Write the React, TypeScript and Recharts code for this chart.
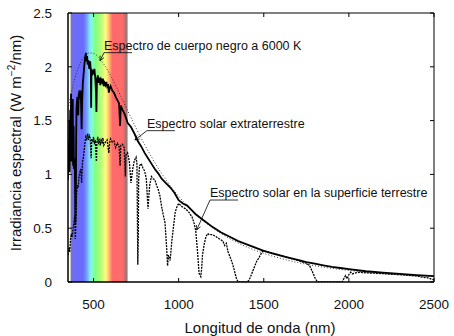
import { LineChart, Line, XAxis, YAxis, ReferenceArea, ReferenceDot, ReferenceLine } from "recharts";

// [longitud de onda (nm), irradiancia (W m-2 / nm)]
const cuerpoNegro: [number, number][] = [
  [350, 1.607], [375, 1.797], [400, 1.943], [425, 2.044], [450, 2.105], [475, 2.129],
  [500, 2.125], [525, 2.097], [550, 2.048], [575, 1.989], [600, 1.92], [650, 1.76],
  [700, 1.594], [750, 1.43], [800, 1.278], [850, 1.137], [900, 1.009], [950, 0.896],
  [1000, 0.797], [1100, 0.631], [1200, 0.502], [1300, 0.403], [1400, 0.326], [1500, 0.266],
  [1600, 0.219], [1700, 0.181], [1800, 0.151], [1900, 0.127], [2000, 0.1075], [2100, 0.0915],
  [2200, 0.0783], [2300, 0.0674], [2400, 0.0583], [2500, 0.0507],
];

const extraterrestre: [number, number][] = [
  [350, 0.95], [353, 1.3], [355, 1.05], [358, 1.5], [360, 1.02], [363, 1.6], [365, 1.2],
  [368, 1.75], [370, 1.12], [373, 1.55], [375, 1.15], [378, 1.7], [380, 1.08], [383, 1.45],
  [385, 1.05], [390, 1.15], [393, 0.55], [396, 0.75], [398, 1.35], [400, 1.62], [405, 1.72],
  [410, 1.55], [413, 1.74], [418, 1.78], [422, 1.7], [425, 1.78], [430, 1.42], [433, 1.68],
  [437, 1.85], [440, 1.9], [445, 2.0], [450, 2.08], [455, 2.13], [458, 2.05], [462, 2.1],
  [466, 2.02], [470, 2.06], [475, 1.98], [480, 2.05], [484, 1.96], [486, 1.62], [488, 1.98],
  [492, 1.92], [496, 1.97], [500, 1.93], [505, 1.98], [510, 1.9], [515, 1.75], [517, 1.58],
  [520, 1.88], [525, 1.92], [530, 1.85], [535, 1.9], [540, 1.83], [545, 1.88], [550, 1.86],
  [555, 1.89], [560, 1.82], [565, 1.85], [570, 1.83], [575, 1.86], [580, 1.82], [585, 1.84],
  [590, 1.76], [595, 1.8], [600, 1.82], [610, 1.78], [620, 1.76], [630, 1.72], [640, 1.69],
  [650, 1.66], [656, 1.45], [660, 1.64], [670, 1.6], [680, 1.57], [690, 1.53], [700, 1.48],
  [720, 1.44], [740, 1.38], [760, 1.31], [780, 1.26], [800, 1.2], [820, 1.15], [840, 1.1],
  [860, 1.05], [880, 1.01], [900, 0.96], [925, 0.92], [950, 0.88], [975, 0.83], [1000, 0.76],
  [1025, 0.73], [1050, 0.71], [1075, 0.67], [1100, 0.63], [1150, 0.57], [1200, 0.51],
  [1250, 0.46], [1300, 0.42], [1350, 0.38], [1400, 0.35], [1450, 0.32], [1500, 0.29],
  [1550, 0.265], [1600, 0.245], [1650, 0.225], [1700, 0.205], [1750, 0.185], [1800, 0.17],
  [1850, 0.155], [1900, 0.14], [1950, 0.13], [2000, 0.12], [2100, 0.1], [2200, 0.088],
  [2300, 0.075], [2400, 0.064], [2500, 0.055],
];

const superficie: [number, number][] = [
  [350, 0.25], [355, 0.32], [360, 0.28], [365, 0.4], [370, 0.45], [375, 0.42], [380, 0.5],
  [385, 0.55], [390, 0.62], [393, 0.4], [396, 0.55], [400, 0.82], [405, 0.9], [410, 0.88],
  [415, 0.98], [420, 1.02], [425, 1.05], [430, 0.92], [435, 1.12], [440, 1.15], [445, 1.22],
  [450, 1.3], [455, 1.35], [460, 1.33], [465, 1.38], [470, 1.32], [475, 1.36], [480, 1.34],
  [486, 1.15], [490, 1.33], [495, 1.3], [500, 1.35], [505, 1.28], [510, 1.32], [517, 1.12],
  [520, 1.3], [525, 1.35], [530, 1.28], [535, 1.33], [540, 1.27], [545, 1.32], [550, 1.3],
  [555, 1.34], [560, 1.27], [570, 1.3], [580, 1.32], [590, 1.2], [595, 1.3], [600, 1.33],
  [610, 1.3], [620, 1.31], [630, 1.25], [640, 1.29], [650, 1.26], [656, 1.08], [660, 1.27],
  [670, 1.28], [680, 1.25], [687, 0.98], [690, 1.18], [700, 1.2], [710, 1.12], [720, 0.92],
  [730, 1.05], [740, 1.13], [750, 1.16], [755, 1.1], [760, 0.16], [763, 0.45], [765, 0.95],
  [770, 1.08], [780, 1.1], [790, 1.06], [800, 1.03], [810, 0.96], [815, 0.82], [820, 0.68],
  [825, 0.8], [830, 0.9], [840, 0.98], [850, 0.96], [860, 0.95], [870, 0.9], [880, 0.86],
  [890, 0.8], [900, 0.7], [910, 0.62], [920, 0.55], [930, 0.3], [935, 0.15], [940, 0.25],
  [950, 0.2], [960, 0.38], [970, 0.52], [980, 0.65], [990, 0.7], [1000, 0.73], [1020, 0.7],
  [1040, 0.68], [1060, 0.65], [1080, 0.6], [1090, 0.55], [1100, 0.48], [1110, 0.3],
  [1120, 0.08], [1130, 0.05], [1135, 0.12], [1140, 0.25], [1150, 0.35], [1160, 0.42],
  [1170, 0.45], [1180, 0.44], [1200, 0.44], [1220, 0.42], [1240, 0.4], [1260, 0.38],
  [1270, 0.34], [1280, 0.36], [1290, 0.28], [1300, 0.24], [1310, 0.2], [1320, 0.15],
  [1330, 0.09], [1340, 0.03], [1350, 0], [1400, 0], [1410, 0.01], [1420, 0.04], [1430, 0.08],
  [1440, 0.12], [1450, 0.16], [1460, 0.2], [1470, 0.22], [1480, 0.25], [1490, 0.28],
  [1500, 0.29], [1550, 0.27], [1600, 0.245], [1650, 0.225], [1700, 0.2], [1750, 0.175],
  [1770, 0.15], [1790, 0.08], [1800, 0.04], [1815, 0], [1960, 0], [1970, 0.03], [1980, 0.06],
  [1990, 0.03], [2000, 0.07], [2010, 0.09], [2020, 0.075], [2040, 0.085], [2060, 0.09],
  [2080, 0.088], [2100, 0.085], [2150, 0.082], [2200, 0.078], [2250, 0.072], [2300, 0.068],
  [2350, 0.062], [2400, 0.055], [2430, 0.045], [2460, 0.04], [2480, 0.03], [2500, 0.02],
];

const xTicks = [500, 1000, 1500, 2000, 2500];
const yTicks = [0, 0.5, 1, 1.5, 2, 2.5];
const xDomain: [number, number] = [350, 2500];
const yDomain: [number, number] = [0, 2.5];
const visible = [365, 700];

const FONT = "'Liberation Sans', Arial, Helvetica, sans-serif";
const TICK = 4;

// text callouts: tip is the point on the curve, dx/dy is where the underline starts (px)
const callouts = [
  { text: "Espectro de cuerpo negro a 6000 K", x: 538, y: 2.057, dx: 4, dy: -8 },
  { text: "Espectro solar extraterrestre", x: 743, y: 1.32, dx: 12, dy: -9.3 },
  { text: "Espectro solar en la superficie terrestre", x: 1106, y: 0.483, dx: 13.3, dy: -30 },
];

const pts = (rows: [number, number][]) => rows.map(([x, y]) => ({ x, y }));

function Callout(props: any) {
  const { cx, cy, dx, dy, text } = props;
  const sx = cx + dx;
  const sy = cy + dy;
  const back = Math.atan2(sy - cy, sx - cx);
  const L = 5;
  const a1 = back - 0.45;
  const a2 = back + 0.45;
  return (
    <g>
      <line x1={sx} y1={sy} x2={cx} y2={cy} stroke="#000" strokeWidth={0.8} />
      <polyline
        points={`${cx + L * Math.cos(a1)},${cy + L * Math.sin(a1)} ${cx},${cy} ${cx + L * Math.cos(a2)},${cy + L * Math.sin(a2)}`}
        fill="none"
        stroke="#000"
        strokeWidth={0.8}
      />
      <line x1={sx} y1={sy} x2={sx + 28} y2={sy} stroke="#000" strokeWidth={0.8} />
      <text x={sx} y={sy - 3} fontSize={12.5} fontFamily={FONT} fill="#111">
        {text}
      </text>
    </g>
  );
}

// inward tick marks drawn at a data point on the frame
function TickMark(props: any) {
  const { cx, cy, side } = props;
  if (cx == null || cy == null) return null;
  const d = {
    bottom: [0, -TICK],
    top: [0, TICK],
    left: [TICK, 0],
    right: [-TICK, 0],
  }[side as "bottom" | "top" | "left" | "right"];
  return <line x1={cx} y1={cy} x2={cx + d[0]} y2={cy + d[1]} stroke="#000" strokeWidth={1} />;
}

function YTitle() {
  return (
    <text transform="translate(21,143) rotate(-90)" textAnchor="middle" fontSize={15} fontFamily={FONT} fill="#111">
      Irradiancia espectral (W m
      <tspan dy={-6} fontSize={10}>−2</tspan>
      <tspan dy={6}>/nm)</tspan>
    </text>
  );
}

function XTitle() {
  return (
    <text x={260} y={333} textAnchor="middle" fontSize={15} fontFamily={FONT} fill="#111">
      Longitud de onda (nm)
    </text>
  );
}

const tickStyle = { fontSize: 13.5, fontFamily: FONT, fill: "#111" };

export default function App() {
  return (
    <div style={{ position: "absolute", left: 0, top: 0, background: "#fff" }}>
      <LineChart width={454} height={336} margin={{ top: 13, right: 20, bottom: 0, left: 0 }}>
        <defs>
          <linearGradient id="rainbow" x1="0" y1="0" x2="1" y2="0">
            <stop offset="0" stopColor="#80808c" />
            <stop offset="0.04" stopColor="#6d6df5" />
            <stop offset="0.224" stopColor="#6b6bff" />
            <stop offset="0.29" stopColor="#70a8ff" />
            <stop offset="0.337" stopColor="#86e6ff" />
            <stop offset="0.388" stopColor="#80ffc0" />
            <stop offset="0.433" stopColor="#80ff80" />
            <stop offset="0.537" stopColor="#b8ff78" />
            <stop offset="0.612" stopColor="#ffff80" />
            <stop offset="0.672" stopColor="#ffc070" />
            <stop offset="0.731" stopColor="#ff6b6b" />
            <stop offset="0.91" stopColor="#ff6b6b" />
            <stop offset="0.97" stopColor="#b07070" />
            <stop offset="1" stopColor="#808080" />
          </linearGradient>
        </defs>
        <XAxis
          dataKey="x"
          type="number"
          domain={xDomain}
          ticks={xTicks}
          allowDataOverflow
          height={54}
          tickLine={false}
          tickMargin={11}
          tick={tickStyle}
          stroke="#000"
          label={<XTitle />}
        />
        <YAxis
          type="number"
          domain={yDomain}
          ticks={yTicks}
          allowDataOverflow
          width={68}
          tickLine={false}
          tickMargin={10}
          tick={tickStyle}
          stroke="#000"
          label={<YTitle />}
        />
        <ReferenceArea x1={visible[0]} x2={visible[1]} y1={0} y2={2.5} fill="url(#rainbow)" fillOpacity={1} stroke="none" />
        <Line
          data={pts(superficie)}
          dataKey="y"
          type="linear"
          stroke="#000"
          strokeWidth={1.3}
          strokeDasharray="2 1"
          dot={false}
          activeDot={false}
          isAnimationActive={false}
        />
        <Line
          data={pts(cuerpoNegro)}
          dataKey="y"
          type="monotone"
          stroke="#222"
          strokeWidth={0.9}
          strokeDasharray="1 2"
          dot={false}
          activeDot={false}
          isAnimationActive={false}
        />
        <Line
          data={pts(extraterrestre)}
          dataKey="y"
          type="linear"
          stroke="#000"
          strokeWidth={1.8}
          dot={false}
          activeDot={false}
          isAnimationActive={false}
        />
        {/* plot frame */}
        <ReferenceLine y={yDomain[1]} stroke="#000" strokeWidth={1} ifOverflow="visible" />
        <ReferenceLine y={yDomain[0]} stroke="#000" strokeWidth={1} ifOverflow="visible" />
        <ReferenceLine x={xDomain[0]} stroke="#000" strokeWidth={1} ifOverflow="visible" />
        <ReferenceLine x={xDomain[1]} stroke="#000" strokeWidth={1} ifOverflow="visible" />
        {xTicks.map((t) => (
          <ReferenceDot key={`b${t}`} x={t} y={yDomain[0]} r={0} ifOverflow="visible" shape={(p: any) => <TickMark {...p} side="bottom" />} />
        ))}
        {xTicks.map((t) => (
          <ReferenceDot key={`t${t}`} x={t} y={yDomain[1]} r={0} ifOverflow="visible" shape={(p: any) => <TickMark {...p} side="top" />} />
        ))}
        {yTicks.map((t) => (
          <ReferenceDot key={`l${t}`} x={xDomain[0]} y={t} r={0} ifOverflow="visible" shape={(p: any) => <TickMark {...p} side="left" />} />
        ))}
        {yTicks.map((t) => (
          <ReferenceDot key={`r${t}`} x={xDomain[1]} y={t} r={0} ifOverflow="visible" shape={(p: any) => <TickMark {...p} side="right" />} />
        ))}
        {callouts.map((c) => (
          <ReferenceDot
            key={c.text}
            x={c.x}
            y={c.y}
            r={0}
            isFront
            shape={(p: any) => <Callout {...p} dx={c.dx} dy={c.dy} text={c.text} />}
          />
        ))}
      </LineChart>
    </div>
  );
}
